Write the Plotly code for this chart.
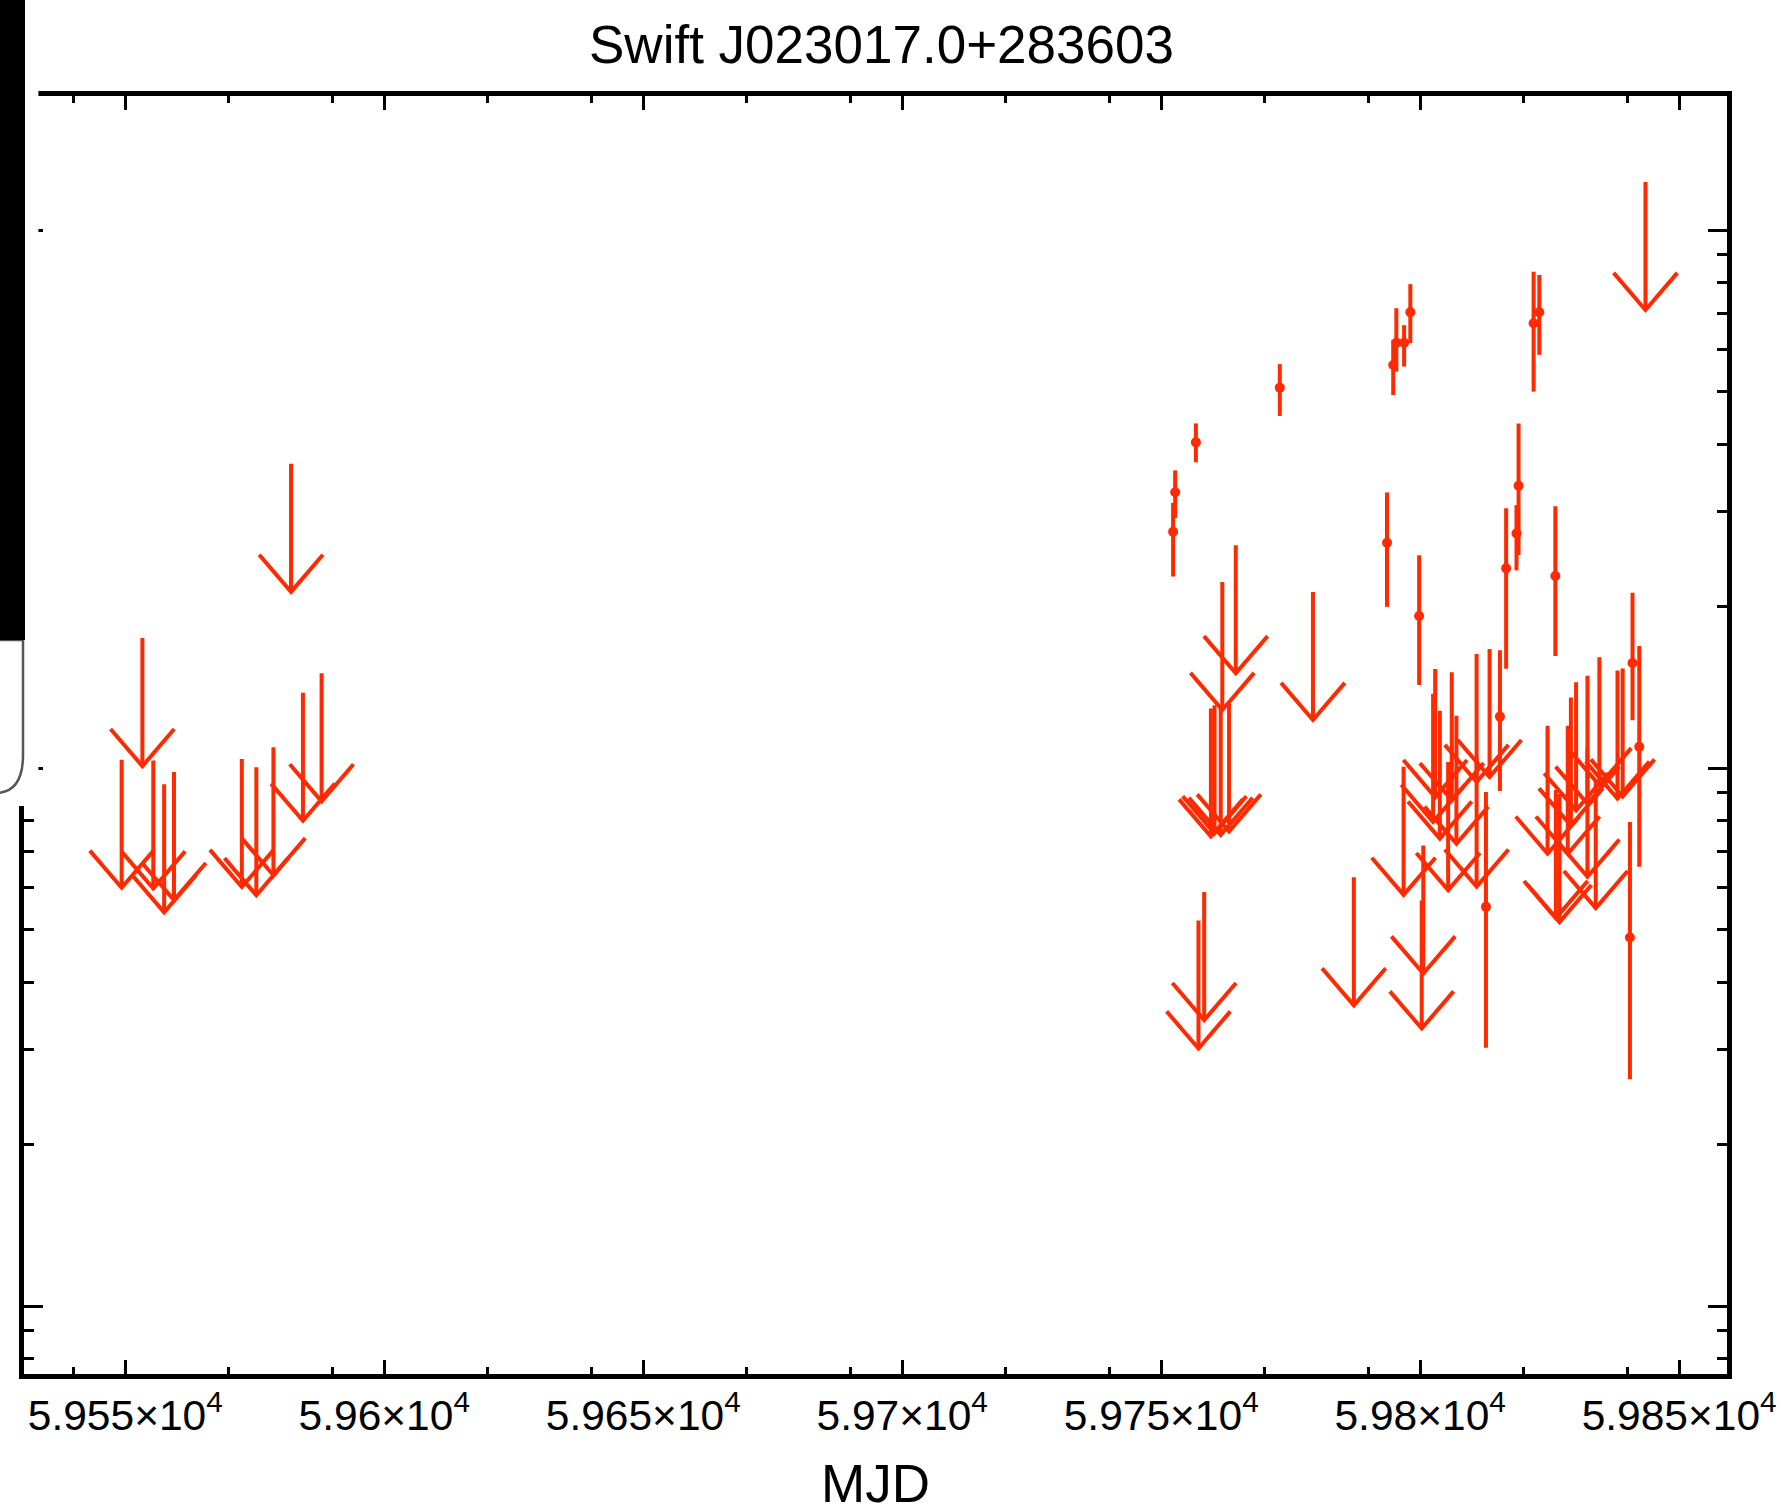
import plotly.graph_objects as go

# ---------------- data ----------------
# upper limits: MJD and count-rate upper limit
ul_mjd = [59549.3, 59553.3, 59555.4, 59557.5, 59559.4, 59572.5, 59575.3, 59578.6, 59582.0, 59584.3, 59587.9,
          59757.2, 59758.3, 59759.6, 59760.3, 59761.5, 59761.8, 59763.1, 59764.4, 59779.3, 59787.2,
          59796.8, 59800.3, 59800.6, 59802.5, 59802.9, 59803.8, 59805.4, 59806.1, 59807.0, 59810.9,
          59810.9, 59813.4, 59824.6, 59826.2, 59826.9, 59828.5, 59829.1, 59830.1, 59832.3, 59832.3,
          59833.9, 59834.6, 59838.1, 59839.1, 59843.5]
ul_rate = [0.00599, 0.01008, 0.00597, 0.00539, 0.00568, 0.00601, 0.00580, 0.00632, 0.02125, 0.00798, 0.00867,
           0.00301, 0.00340, 0.00746, 0.00756, 0.00751, 0.01282, 0.00762, 0.01500, 0.01228, 0.00362,
           0.00581, 0.00328, 0.00415, 0.00794, 0.00883, 0.00739, 0.00593, 0.00871, 0.00723, 0.00602,
           0.00942, 0.00962, 0.00693, 0.00526, 0.00517, 0.00693, 0.00782, 0.00834, 0.00628, 0.00858,
           0.00549, 0.00929, 0.00877, 0.00885, 0.0710]

# detections: MJD, rate, +err, -err
det_mjd = [59752.3, 59752.7, 59756.7, 59772.9, 59793.6, 59794.8, 59795.4, 59796.9, 59798.1, 59799.8,
           59812.7, 59815.4, 59816.6, 59818.6, 59819.0, 59821.9, 59823.0, 59826.1, 59840.5, 59841.0, 59842.3]
det_rate = [0.02749, 0.03255, 0.04030, 0.05093, 0.02623, 0.05612, 0.06174, 0.06174, 0.07031, 0.01916,
            0.00552, 0.01246, 0.02350, 0.02730, 0.03348, 0.06707, 0.07031, 0.02275, 0.00484, 0.01567, 0.01095]
det_err_hi = [0.0036, 0.0032, 0.0034, 0.0054, 0.0063, 0.0063, 0.0098, 0.0048, 0.0090, 0.0057,
              0.0035, 0.0041, 0.0069, 0.0035, 0.0102, 0.0166, 0.0122, 0.0079, 0.0031, 0.0055, 0.0059]
det_err_lo = [0.0048, 0.0034, 0.0033, 0.0058, 0.0063, 0.0068, 0.0072, 0.0060, 0.0087, 0.0049,
              0.0025, 0.0034, 0.0082, 0.0040, 0.0086, 0.0170, 0.0117, 0.0066, 0.0022, 0.0034, 0.0044]

x_tickvals = [59550, 59600, 59650, 59700, 59750, 59800, 59850]
x_ticktext = ["5.955×10<sup>4</sup>", "5.96×10<sup>4</sup>", "5.965×10<sup>4</sup>", "5.97×10<sup>4</sup>",
              "5.975×10<sup>4</sup>", "5.98×10<sup>4</sup>", "5.985×10<sup>4</sup>"]
x_minor_vals = [59540, 59570, 59590, 59620, 59640, 59670, 59690, 59720, 59740, 59770, 59790, 59820, 59840]
y_tickvals = [0.001, 0.01, 0.1]
y_minor_vals = [m * d for d in (0.0001, 0.001, 0.01) for m in range(2, 10)]

TITLE = "Swift J023017.0+283603"
XTITLE = "MJD"

# ---------------- style ----------------
RED = "#ff2a00"
FONT = "Liberation Sans, Arial, Helvetica, sans-serif"
W, H = 1788, 1507
L, R, T, B = 24, 1739, 96, 1374          # plot-area pixel box
X0_PX, PX_PER_DAY = 126, 5.216           # pixel of MJD 59550 and x scale
Y1_PX, PX_PER_DEC = 230, 538             # pixel of rate 0.1 and y scale
STEM = 10 ** 0.238                       # arrow stem length (log decades)
HEAD_Y = 10 ** 0.069                     # arrow head height
HEAD_DX = 6.15                           # arrow head half-width (days)

ax_, ay_ = [], []
for m, r in zip(ul_mjd, ul_rate):
    ax_ += [m, m, None, m - HEAD_DX, m, m + HEAD_DX, None]
    ay_ += [r * STEM, r, None, r * HEAD_Y, r, r * HEAD_Y, None]

fig = go.Figure()
fig.add_trace(go.Scatter(x=ax_, y=ay_, mode="lines",
                         line=dict(color=RED, width=4), hoverinfo="skip", showlegend=False))
fig.add_trace(go.Scatter(x=det_mjd, y=det_rate, mode="markers",
                         marker=dict(color=RED, size=10),
                         error_y=dict(type="data", symmetric=False, array=det_err_hi,
                                      arrayminus=det_err_lo, color=RED, thickness=4, width=0),
                         showlegend=False))


def px(x):
    return (x - L) / (R - L)


def py(y):
    return (B - y) / (B - T)


shapes = [
    # white strip of the overlaid UI panel
    dict(type="rect", xref="paper", yref="paper", x0=px(-5), x1=px(38.5), y0=py(806), y1=py(-5),
         fillcolor="white", line=dict(width=0), layer="above"),
    # rounded white box with grey border
    dict(type="path", xref="paper", yref="paper",
         path=f"M {px(-5)},{py(640)} L {px(23)},{py(640)} L {px(23)},{py(755)} "
              f"Q {px(23)},{py(793)} {px(-5)},{py(793)} Z",
         fillcolor="white", line=dict(color="#555555", width=2.5), layer="above"),
    # black bar
    dict(type="rect", xref="paper", yref="paper", x0=px(-5), x1=px(25), y0=py(640), y1=py(-5),
         fillcolor="black", line=dict(width=0), layer="above"),
]

axis_common = dict(showline=True, linecolor="black", linewidth=5, mirror="ticks",
                   ticks="inside", tickcolor="black", tickwidth=3, showgrid=False, zeroline=False)

fig.update_layout(
    width=W, height=H,
    margin=dict(l=L, r=W - R, t=T, b=H - B, pad=0),
    paper_bgcolor="white", plot_bgcolor="white",
    font=dict(family=FONT, color="black"),
    title=dict(text=TITLE, x=0.5 * (L + R) / W, xanchor="center", y=1 - 44 / H, yanchor="middle",
               yref="container", xref="container", font=dict(size=53, family=FONT, color="black")),
    xaxis=dict(range=[59550 - (X0_PX - L) / PX_PER_DAY, 59550 + (R - X0_PX) / PX_PER_DAY],
               tickmode="array", tickvals=x_tickvals, ticktext=x_ticktext, ticklen=14,
               ticklabeloverflow="allow",
               tickfont=dict(size=42.5, family=FONT, color="black"),
               minor=dict(tickmode="array", tickvals=x_minor_vals, ticks="inside", ticklen=7,
                          tickwidth=3, tickcolor="black"),
               **axis_common),
    yaxis=dict(type="log",
               range=[-1 - (B - Y1_PX) / PX_PER_DEC, -1 + (Y1_PX - T) / PX_PER_DEC],
               tickmode="array", tickvals=y_tickvals, showticklabels=False, ticklen=19,
               minor=dict(tickmode="array", tickvals=y_minor_vals, ticks="inside", ticklen=10,
                          tickwidth=3, tickcolor="black"),
               **axis_common),
    shapes=shapes,
    annotations=[dict(text=XTITLE, xref="paper", yref="paper", x=0.5, y=py(1484), xanchor="center",
                      yanchor="middle", showarrow=False, font=dict(size=53, family=FONT, color="black"))],
)

fig.write_html("out.html")
